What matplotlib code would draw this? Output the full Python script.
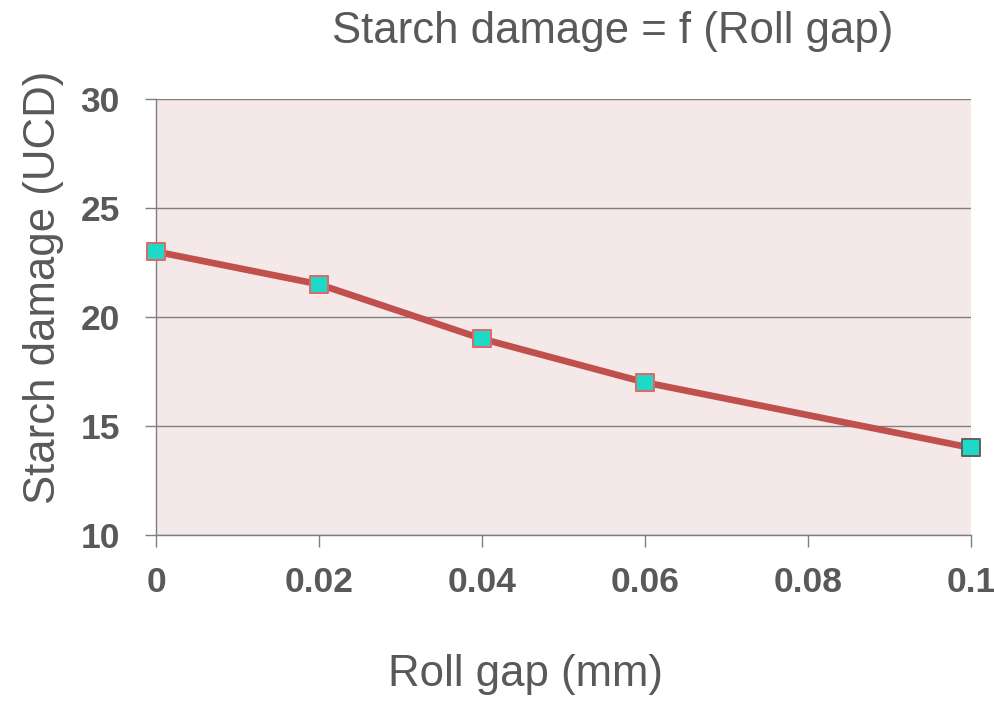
import numpy as np
import matplotlib
matplotlib.use('Agg')
from matplotlib import pyplot as plt

# data
roll_gap = [0.0, 0.02, 0.04, 0.06, 0.1]
starch_damage = [23.0, 21.5, 19.0, 17.0, 14.0]

x_ticks = [0, 0.02, 0.04, 0.06, 0.08, 0.1]
x_tick_labels = ['0', '0.02', '0.04', '0.06', '0.08', '0.1']
y_ticks = [10, 15, 20, 25, 30]

grey = '#595959'
tick_font = ['Liberation Sans Narrow', 'DejaVu Sans Condensed', 'Liberation Sans']
text_font = ['Liberation Sans', 'DejaVu Sans']


def main():
    fig = plt.figure(figsize=(9.94, 7.03), dpi=100)
    ax = fig.add_axes([156 / 994, 168 / 703, 815 / 994, 436 / 703])
    ax.set_facecolor('#F5E8E8')

    ax.plot(roll_gap, starch_damage, color='#C0504D', lw=4.8,
            clip_on=False, zorder=3)
    # last marker has a grey outline in the original
    edges = ['#E06666'] * (len(roll_gap) - 1) + ['#606060']
    ax.scatter(roll_gap, starch_damage, marker='s', s=12.5 ** 2,
               c='#1ED8C8', edgecolors=edges, linewidths=1.4,
               clip_on=False, zorder=4)

    ax.set_xlim(0, 0.1)
    ax.set_ylim(10, 30)
    ax.set_xticks(x_ticks)
    ax.set_xticklabels(x_tick_labels)
    ax.set_yticks(y_ticks)

    ax.yaxis.grid(True, color='#7f7f7f', lw=1.0)
    ax.set_axisbelow(True)
    for s in ('top', 'right'):
        ax.spines[s].set_visible(False)
    for s in ('left', 'bottom'):
        ax.spines[s].set_color('#7f7f7f')
        ax.spines[s].set_linewidth(1.0)

    ax.tick_params(axis='x', direction='out', length=8.5, width=1.0,
                   color='#7f7f7f', pad=14)
    ax.tick_params(axis='y', direction='out', length=8, width=1.0,
                   color='#7f7f7f', pad=18)
    for lab in ax.get_xticklabels() + ax.get_yticklabels():
        lab.set_family(tick_font)
        lab.set_fontweight('bold')
        lab.set_fontsize(25.5)
        lab.set_color(grey)

    ax.set_xlabel('Roll gap (mm)', family=text_font, fontsize=31.5,
                  color=grey)
    ax.xaxis.set_label_coords(0.453, -0.273)
    ax.set_ylabel('Starch damage (UCD)', family=text_font, fontsize=31.5,
                  color=grey)
    ax.yaxis.set_label_coords(-0.113, 0.567)
    fig.text(613 / 994, 1 - 31 / 703, 'Starch damage = f (Roll gap)',
             family=text_font, fontsize=31.5, color=grey,
             ha='center', va='center')

    fig.savefig('out.png', dpi=100)


main()
